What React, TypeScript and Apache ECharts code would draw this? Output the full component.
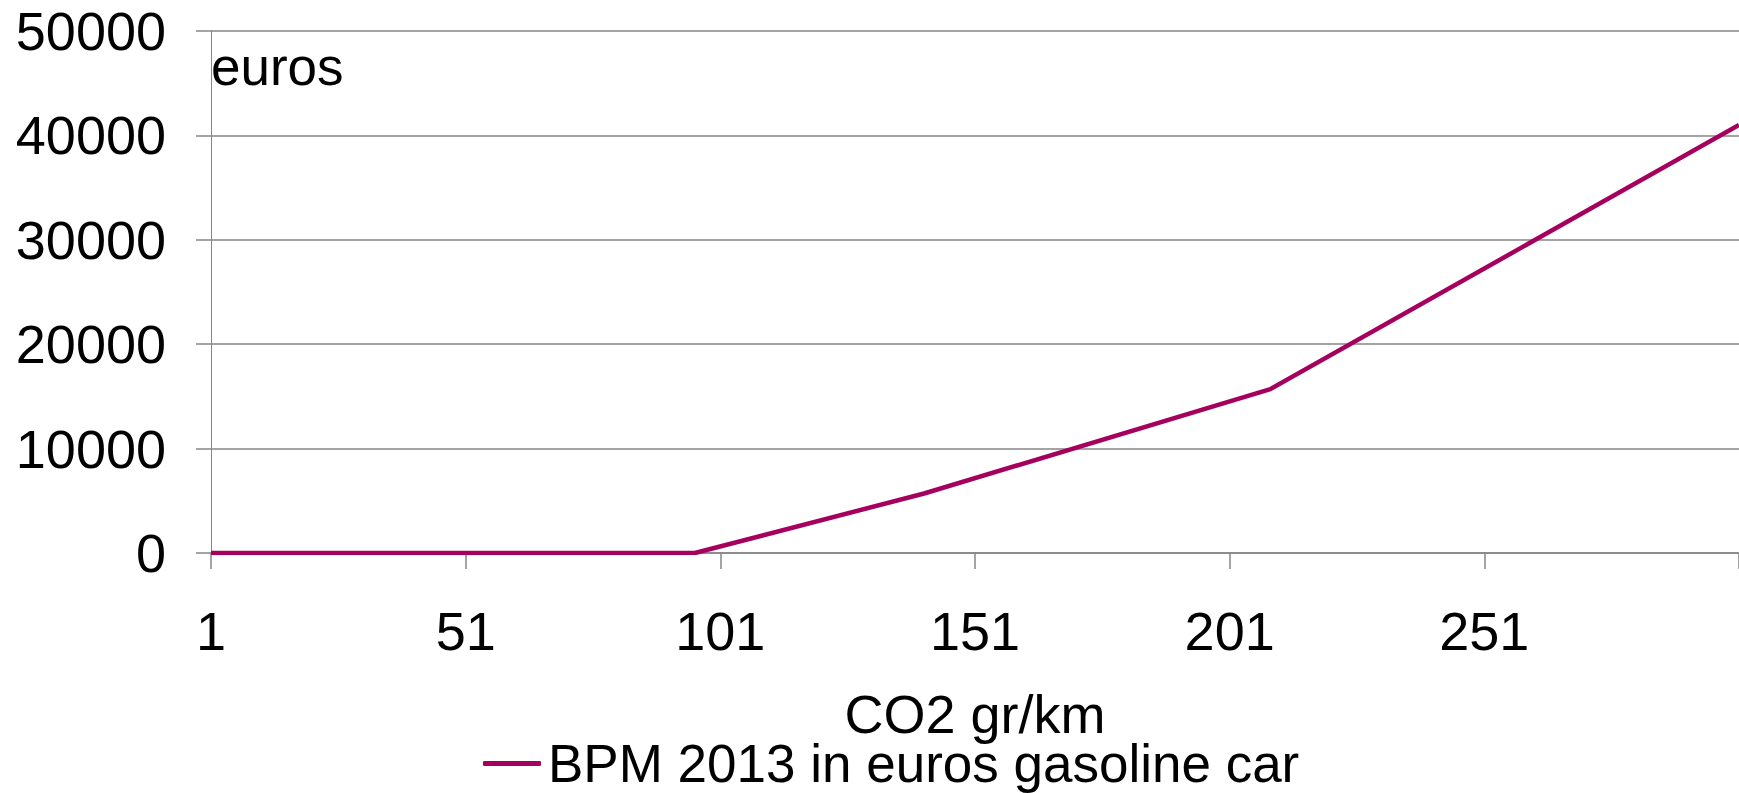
import React, { useEffect, useRef } from "react";
import * as echarts from "echarts";

const seriesName = "BPM 2013 in euros gasoline car";
const xAxisName = "CO2 gr/km";
const yUnitLabel = "euros";
// breakpoints of the BPM curve: [CO2 g/km, euros]
const co2Values = [1, 96, 141, 209, 301];
const bpmValues = [0, 0, 5700, 15700, 41000];
const xTickValues = [1, 51, 101, 151, 201, 251, 301];
const xLabelValues = [1, 51, 101, 151, 201, 251];
const yMin = 0;
const yMax = 50000;
const yInterval = 10000;

const FONT = "'Liberation Sans', Arial, sans-serif";
const LINE_COLOR = "#A6005E";
const GRID_COLOR = "#868686";

export default function App() {
  const ref = useRef<HTMLDivElement>(null);
  useEffect(() => {
    if (!ref.current) return;
    const chart = echarts.init(ref.current, null, { renderer: "svg" });
    const data = co2Values.map((x, i) => [x, bpmValues[i]]);
    chart.setOption({
      animation: false,
      backgroundColor: "#ffffff",
      textStyle: { fontFamily: FONT },
      grid: { left: 211, right: 0, top: 31, bottom: 240, containLabel: false },
      xAxis: {
        type: "value",
        min: 1,
        max: 301,
        name: xAxisName,
        nameLocation: "middle",
        nameGap: 140,
        nameTextStyle: { fontSize: 54, lineHeight: 42, color: "#000", fontFamily: FONT },
        axisLine: { show: true, onZero: false, lineStyle: { color: GRID_COLOR, width: 1.5 } },
        axisTick: { show: true, length: 16, customValues: xTickValues, lineStyle: { color: GRID_COLOR, width: 1.5 } },
        axisLabel: { customValues: xLabelValues, fontSize: 54, color: "#000", margin: 51, fontFamily: FONT },
        splitLine: { show: false },
      },
      yAxis: {
        type: "value",
        min: yMin,
        max: yMax,
        interval: yInterval,
        axisLine: { show: true, lineStyle: { color: GRID_COLOR, width: 1 } },
        axisTick: { show: true, length: 15, lineStyle: { color: GRID_COLOR, width: 1.5 } },
        axisLabel: {
          fontSize: 54,
          color: "#000",
          margin: 45,
          fontFamily: FONT,
          formatter: (v: number) => String(v),
        },
        splitLine: { show: true, lineStyle: { color: GRID_COLOR, width: 1.5 } },
      },
      legend: {
        show: true,
        left: 483,
        top: 737,
        padding: 0,
        itemWidth: 58,
        itemHeight: 5,
        itemGap: 0,
        icon: "roundRect",
        textStyle: { fontSize: 53, lineHeight: 42, color: "#000", fontFamily: FONT, padding: [0, 0, 0, 2] },
        data: [seriesName],
      },
      graphic: [
        {
          type: "text",
          left: 211,
          top: 40,
          style: { text: yUnitLabel, fontSize: 53, fill: "#000", fontFamily: FONT },
        },
      ],
      series: [
        {
          name: seriesName,
          type: "line",
          data,
          showSymbol: false,
          symbol: "none",
          lineStyle: { color: LINE_COLOR, width: 4.5 },
          itemStyle: { color: LINE_COLOR },
        },
      ],
    });
    return () => chart.dispose();
  }, []);
  return (
    <div
      ref={ref}
      style={{ position: "fixed", left: 0, top: 0, width: 1739, height: 793, background: "#fff" }}
    />
  );
}
